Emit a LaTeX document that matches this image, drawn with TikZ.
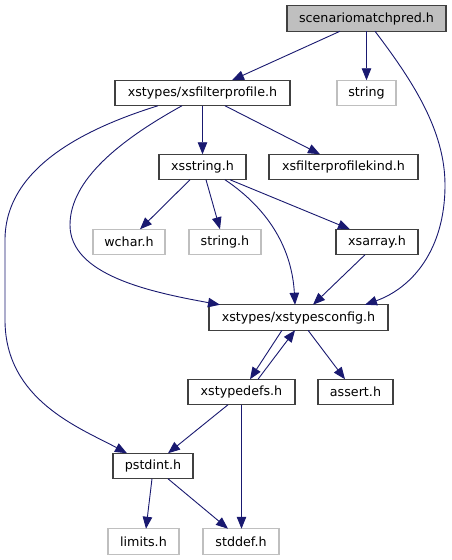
\documentclass[tikz,border=0pt]{standalone}
\usepackage{fontspec}
\setmainfont{DejaVu Sans}
\usetikzlibrary{arrows.meta}
\definecolor{edgecol}{HTML}{191970}
\definecolor{boxgray}{HTML}{BFBFBF}
\definecolor{boxdark}{HTML}{404040}
\begin{document}
\begin{tikzpicture}[x=1pt,y=-1pt,
  every node/.style={inner sep=0pt,outer sep=0pt,font=\fontsize{12.7}{14}\selectfont},
  hbox/.style={draw=boxdark,line width=1.1pt,fill=white,minimum height=25.5pt},
  extbox/.style={draw=boxgray,line width=1.1pt,fill=white,minimum height=25.5pt},
  rootbox/.style={draw=boxdark,line width=1.1pt,fill=boxgray,minimum height=25.5pt},
  dep/.style={draw=edgecol,line width=0.9pt,-{Triangle[length=12pt,width=9.5pt]},fill=none},
]
\useasboundingbox (0,0) rectangle (452,560);
\fill[white] (0,0) rectangle (452,560);

\node[rootbox,minimum width=159pt] (scen) at (366.5,18.5) {scenariomatchpred.h};
\node[hbox,minimum width=175pt] (xsfp) at (202.5,93) {xstypes/xsfilterprofile.h};
\node[extbox,minimum width=59pt] (string) at (366.5,93) {string};
\node[hbox,minimum width=87pt] (xsstring) at (202.5,167) {xsstring.h};
\node[hbox,minimum width=149pt] (xsfpk) at (343.5,167) {xsfilterprofilekind.h};
\node[extbox,minimum width=72pt] (wchar) at (129,242) {wchar.h};
\node[extbox,minimum width=72pt] (stringh) at (225,242) {string.h};
\node[hbox,minimum width=82pt] (xsarray) at (377,242) {xsarray.h};
\node[hbox,minimum width=179pt] (xstc) at (298.5,317.5) {xstypes/xstypesconfig.h};
\node[hbox,minimum width=107pt] (xstd) at (241.5,392) {xstypedefs.h};
\node[hbox,minimum width=75pt] (assert) at (355.5,392) {assert.h};
\node[hbox,minimum width=80pt] (pstdint) at (153,466) {pstdint.h};
\node[extbox,minimum width=71pt] (limits) at (143.5,541.5) {limits.h};
\node[extbox,minimum width=76pt] (stddef) at (241,541.5) {stddef.h};

\draw[dep] ([xshift=-26.5pt]scen.south) -- ([xshift=29.5pt]xsfp.north);
\draw[dep] (scen.south) -- (string.north);
\draw[dep] ([xshift=8.5pt]scen.south) .. controls (412,80) and (445,130) .. (445,185)
   .. controls (445,250) and (412,288) .. ([xshift=66.5pt]xstc.north);

\draw[dep] (xsfp.south) -- (xsstring.north);
\draw[dep] ([xshift=22.5pt]xsfp.south) -- ([xshift=-23.5pt]xsfpk.north);
\draw[dep] ([xshift=-44.5pt]xsfp.south) .. controls (80,130) and (5,170) .. (5,240)
   -- (5,320) .. controls (5,400) and (80,428) .. ([xshift=-26pt]pstdint.north);
\draw[dep] ([xshift=-20.5pt]xsfp.south) .. controls (120,140) and (70,180) .. (70,225)
   .. controls (70,275) and (150,292) .. ([xshift=-78.5pt]xstc.north);

\draw[dep] ([xshift=-12.5pt]xsstring.south) -- ([xshift=11pt]wchar.north);
\draw[dep] ([xshift=3.5pt]xsstring.south) -- ([xshift=-5pt]stringh.north);
\draw[dep] ([xshift=27.5pt]xsstring.south) -- ([xshift=-27pt]xsarray.north);
\draw[dep] ([xshift=22.5pt]xsstring.south) .. controls (270,210) and (292,250) .. ([xshift=-3.5pt]xstc.north);

\draw[dep] ([xshift=-12pt]xsarray.south) -- ([xshift=14.5pt]xstc.north);

\draw[dep] ([xshift=-16.5pt]xstc.south) -- ([xshift=8.5pt]xstd.north);
\draw[dep] ([xshift=16.5pt]xstd.north) -- ([xshift=-3.5pt]xstc.south);
\draw[dep] ([xshift=9.5pt]xstc.south) -- ([xshift=-10.5pt]assert.north);

\draw[dep] ([xshift=-13.5pt]xstd.south) -- ([xshift=15pt]pstdint.north);
\draw[dep] (xstd.south) -- (xstd.south |- stddef.north);

\draw[dep] ([xshift=-1pt]pstdint.south) -- ([xshift=2.5pt]limits.north);
\draw[dep] ([xshift=15pt]pstdint.south) -- ([xshift=-13pt]stddef.north);
\end{tikzpicture}
\end{document}
